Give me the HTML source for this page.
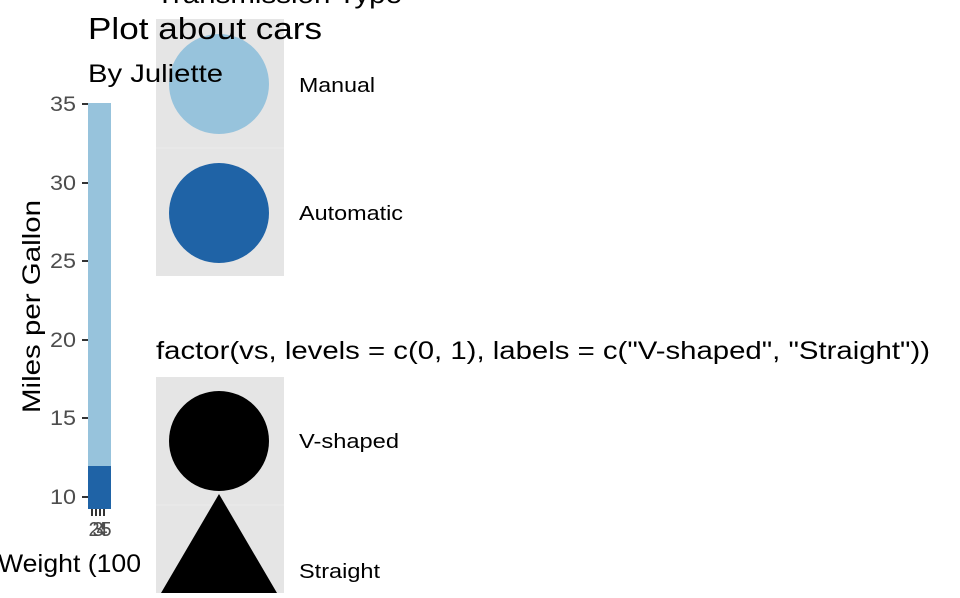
<!DOCTYPE html>
<html><head><style>
html,body{margin:0;padding:0;background:#fff;overflow:hidden}
svg text{font-family:"Liberation Sans",Arial,sans-serif}
</style></head><body>
<svg width="960" height="593" viewBox="0 0 960 593" xmlns="http://www.w3.org/2000/svg">
<rect width="960" height="593" fill="#fff"/>
<rect x="88" y="103" width="23" height="406" fill="#97c3dc"/>
<rect x="88" y="466" width="23" height="43" fill="#1f63a6"/>
<g stroke="#333" stroke-width="2">
<line x1="82" y1="104" x2="88" y2="104"/>
<line x1="82" y1="183" x2="88" y2="183"/>
<line x1="82" y1="261" x2="88" y2="261"/>
<line x1="82" y1="340" x2="88" y2="340"/>
<line x1="82" y1="418" x2="88" y2="418"/>
<line x1="82" y1="497" x2="88" y2="497"/>
<line x1="92" y1="509" x2="92" y2="516"/>
<line x1="96" y1="509" x2="96" y2="516"/>
<line x1="100" y1="509" x2="100" y2="516"/>
<line x1="104" y1="509" x2="104" y2="516"/>
</g>
<g fill="#4d4d4d" font-size="21">
<text x="50" y="111" textLength="26" lengthAdjust="spacingAndGlyphs">35</text>
<text x="50" y="190" textLength="26" lengthAdjust="spacingAndGlyphs">30</text>
<text x="50" y="268" textLength="26" lengthAdjust="spacingAndGlyphs">25</text>
<text x="50" y="347" textLength="26" lengthAdjust="spacingAndGlyphs">20</text>
<text x="50" y="425" textLength="26" lengthAdjust="spacingAndGlyphs">15</text>
<text x="50" y="504" textLength="26" lengthAdjust="spacingAndGlyphs">10</text>
</g>
<g fill="#4d4d4d" font-size="20" text-anchor="middle">
<text x="94" y="536">2</text><text x="98" y="536">3</text><text x="102" y="536">4</text><text x="106" y="536">5</text>
</g>
<text x="-2" y="572" font-size="25" fill="#000" textLength="143" lengthAdjust="spacingAndGlyphs">Weight (100</text>
<text transform="translate(40,413) rotate(-90)" font-size="25" fill="#000" textLength="213" lengthAdjust="spacingAndGlyphs">Miles per Gallon</text>
<rect x="156" y="19" width="128" height="257" fill="#e5e5e5"/>
<line x1="156" y1="148" x2="284" y2="148" stroke="#ececec" stroke-width="1"/>
<circle cx="219" cy="84" r="50" fill="#97c3dc"/>
<circle cx="219" cy="213" r="50" fill="#1f63a6"/>
<text x="156" y="3" font-size="26" fill="#000" textLength="246" lengthAdjust="spacingAndGlyphs">Transmission Type</text>
<text x="88" y="39" font-size="31" fill="#000" textLength="234" lengthAdjust="spacingAndGlyphs">Plot about cars</text>
<text x="88" y="82" font-size="25" fill="#000" textLength="135" lengthAdjust="spacingAndGlyphs">By Juliette</text>
<text x="299" y="92" font-size="20" fill="#000" textLength="76" lengthAdjust="spacingAndGlyphs">Manual</text>
<text x="299" y="220" font-size="20" fill="#000" textLength="104" lengthAdjust="spacingAndGlyphs">Automatic</text>
<text x="156" y="359" font-size="25" fill="#000" textLength="774" lengthAdjust="spacingAndGlyphs">factor(vs, levels = c(0, 1), labels = c("V-shaped", "Straight"))</text>
<rect x="156" y="377" width="128" height="216" fill="#e5e5e5"/>
<line x1="156" y1="505" x2="284" y2="505" stroke="#ececec" stroke-width="1"/>
<circle cx="219" cy="441" r="50" fill="#000"/>
<polygon points="219,494 161,593 277,593" fill="#000"/>
<text x="299" y="448" font-size="20" fill="#000" textLength="100" lengthAdjust="spacingAndGlyphs">V-shaped</text>
<text x="299" y="578" font-size="20" fill="#000" textLength="81" lengthAdjust="spacingAndGlyphs">Straight</text>
</svg>
</body></html>
